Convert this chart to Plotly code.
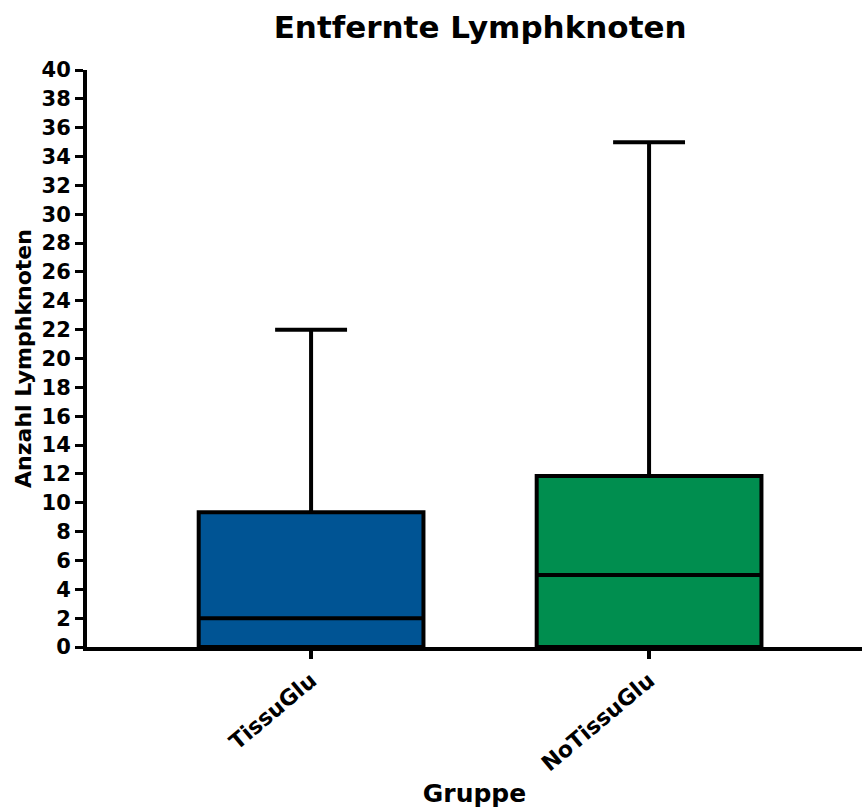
import plotly.graph_objects as go

groups = ["TissuGlu", "NoTissuGlu"]
q1 = [0, 0]
median = [2, 5]
q3 = [9.35, 11.85]
lower = [0, 0]
upper = [22, 35]
colors = ["#005494", "#008E4F"]
y_ticks = list(range(0, 41, 2))

fig = go.Figure()
for i, g in enumerate(groups):
    fig.add_trace(go.Box(
        x=[g], q1=[q1[i]], median=[median[i]], q3=[q3[i]],
        lowerfence=[lower[i]], upperfence=[upper[i]],
        fillcolor=colors[i], line=dict(color="black", width=4),
        whiskerwidth=0.32, width=0.665, boxpoints=False,
        showlegend=False, name=g,
    ))

font = dict(family="DejaVu Sans", color="black", weight="bold")
fig.update_layout(
    width=862, height=808,
    margin=dict(l=87, r=0, t=70, b=161),
    plot_bgcolor="white", paper_bgcolor="white",
    title=dict(text="Entfernte Lymphknoten", x=0.557, xref="container", xanchor="center",
               y=0.966, yref="container", yanchor="middle",
               font=dict(size=31, **font)),
    font=font,
    xaxis=dict(
        type="category", range=[-0.663, 1.63],
        showline=True, linecolor="black", linewidth=4,
        ticks="outside", ticklen=8, tickwidth=4, tickcolor="black",
        tickangle=-40, tickfont=dict(size=22, **font),
        title=dict(text="Gruppe", font=dict(size=25, **font), standoff=10),
        showgrid=False, zeroline=False,
    ),
    yaxis=dict(
        range=[0, 40], tickvals=y_ticks, ticktext=[str(v) for v in y_ticks],
        showline=True, linecolor="black", linewidth=4,
        ticks="outside", ticklen=8, tickwidth=3, tickcolor="black",
        tickfont=dict(size=21, **font),
        title=dict(text="Anzahl Lymphknoten", font=dict(size=22, **font), standoff=5),
        showgrid=False, zeroline=False,
    ),
)
fig.write_html("out.html")
